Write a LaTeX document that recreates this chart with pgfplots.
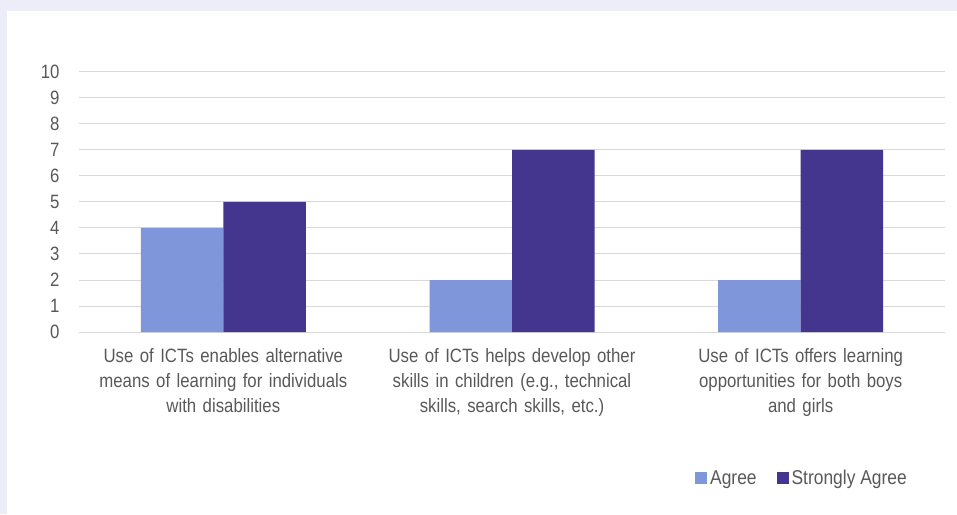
\documentclass[border=0pt]{standalone}
\usepackage{fontspec}
\setmainfont{Liberation Sans}[FakeStretch=0.87]
\usepackage{pgfplots}
\pgfplotsset{compat=1.18}
\definecolor{bgl}{HTML}{ECEDF8}
\definecolor{txt}{HTML}{595959}
\definecolor{agree}{HTML}{8096DA}
\definecolor{strong}{HTML}{44358F}
\definecolor{gridc}{HTML}{D9D9D9}
\begin{document}
\begin{tikzpicture}[x=1pt,y=1pt]
\fill[bgl] (0,0) rectangle (957,514);
\fill[white] (7,0) rectangle (957,503);
\begin{axis}[
  at={(79pt,182pt)}, anchor=south west,
  scale only axis, width=866pt, height=260pt,
  xmin=-0.5, xmax=2.5, ymin=0, ymax=10,
  ytick={0,1,...,10},
  xtick={0,1,2},
  xticklabels={{Use of ICTs enables alternative\\means of learning for individuals\\with disabilities},
               {Use of ICTs helps develop other\\skills in children (e.g., technical\\skills, search skills, etc.)},
               {Use of ICTs offers learning\\opportunities for both boys\\and girls}},
  ybar=0pt, bar width=82.5pt,
  axis line style={draw=none},
  major tick length=0pt,
  ymajorgrids, grid style={gridc, line width=1pt},
  /pgf/number format/assume math mode=true,
  ticklabel style={font=\fontsize{19.3}{25}\selectfont, text=txt},
  yticklabel style={anchor=east, xshift=-16pt},
  xticklabel style={anchor=north, text width=290pt, align=center, yshift=-13pt},
  legend style={at={(0.9595,-0.5615)}, anchor=east, draw=none, fill=none,
    font=\fontsize{20}{22}\selectfont, text=txt, legend columns=2,
    /tikz/every even column/.append style={column sep=17pt},
    inner sep=0pt, nodes={inner sep=3pt}},
  legend image code/.code={\fill[#1] (0pt,-6pt) rectangle (12pt,6pt);},
]
\addplot[fill=agree, draw=none] coordinates {(0,4) (1,2) (2,2)};
\addplot[fill=strong, draw=none] coordinates {(0,5) (1,7) (2,7)};
\legend{Agree, Strongly Agree}
\end{axis}
\pgfresetboundingbox
\useasboundingbox (0,0) rectangle (957,514);
\end{tikzpicture}
\end{document}
